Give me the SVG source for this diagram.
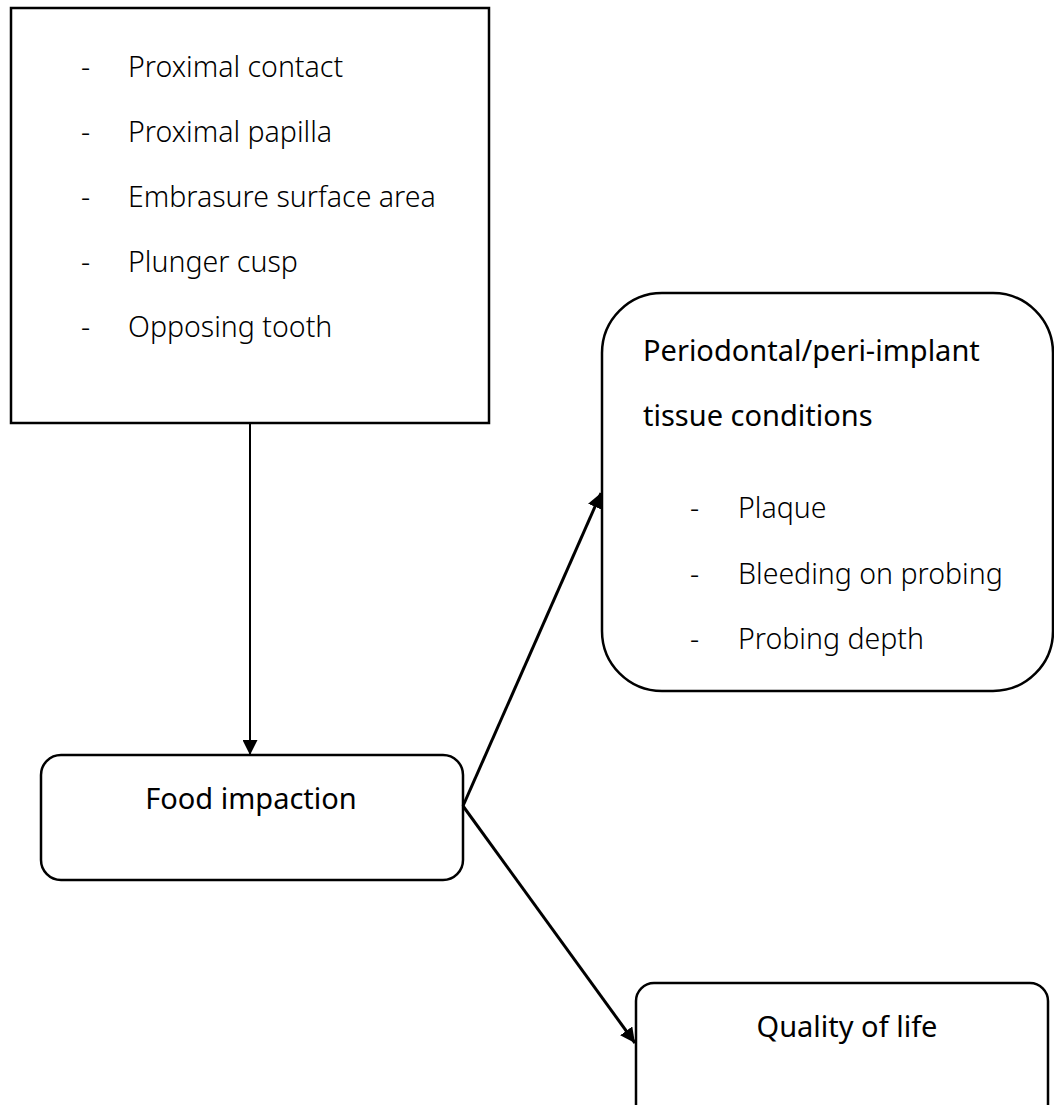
<svg xmlns="http://www.w3.org/2000/svg" width="1054" height="1105" viewBox="0 0 1054 1105">
<style>
.box{fill:#fff;stroke:#000;stroke-width:2.5}
.t{font-family:"Noto Sans","Liberation Sans",sans-serif;font-size:28.5px;font-weight:300;fill:#000}
.b{font-family:"Noto Sans","Liberation Sans",sans-serif;font-size:29px;font-weight:400;fill:#000}
.c{stroke:#000;fill:none}
</style>
<defs>
<marker id="ah" viewBox="0 0 10 10" refX="10" refY="5" markerWidth="15" markerHeight="15" markerUnits="userSpaceOnUse" orient="auto">
<path d="M0,0 L10,5 L0,10 z" fill="#000"/>
</marker>
<marker id="ah2" viewBox="0 0 10 10" refX="10" refY="5" markerWidth="5" markerHeight="5" orient="auto">
<path d="M0,0 L10,5 L0,10 z" fill="#000"/>
</marker>
</defs>
<g id="factors">
<rect class="box" x="11" y="8" width="478" height="415"/>
<text class="t" x="81" y="77">-</text><text class="t" x="128" y="77">Proximal contact</text>
<text class="t" x="81" y="142">-</text><text class="t" x="128" y="142">Proximal papilla</text>
<text class="t" x="81" y="207">-</text><text class="t" x="128" y="207">Embrasure surface area</text>
<text class="t" x="81" y="272">-</text><text class="t" x="128" y="272">Plunger cusp</text>
<text class="t" x="81" y="337">-</text><text class="t" x="128" y="337">Opposing tooth</text>
</g>
<g id="periodontal">
<rect class="box" x="602" y="293" width="451" height="398" rx="60" ry="60"/>
<text class="b" x="643" y="361">Periodontal/peri-implant</text>
<text class="b" x="643" y="426">tissue conditions</text>
<text class="t" x="690" y="518">-</text><text class="t" x="738" y="518">Plaque</text>
<text class="t" x="690" y="584">-</text><text class="t" x="738" y="584">Bleeding on probing</text>
<text class="t" x="690" y="649">-</text><text class="t" x="738" y="649">Probing depth</text>
</g>
<g id="food">
<rect class="box" x="41" y="755" width="422" height="125" rx="20" ry="20"/>
<text class="b" x="251" y="809" text-anchor="middle">Food impaction</text>
</g>
<g id="qol">
<rect class="box" x="636" y="983" width="412" height="140" rx="18" ry="18"/>
<text class="b" x="847" y="1037" text-anchor="middle">Quality of life</text>
</g>
<g id="connectors">
<line class="c" x1="250" y1="423" x2="250" y2="755" stroke-width="2" marker-end="url(#ah)"/>
<line class="c" x1="463" y1="806" x2="601" y2="493" stroke-width="3" marker-end="url(#ah2)"/>
<line class="c" x1="463" y1="806" x2="635" y2="1043" stroke-width="3" marker-end="url(#ah2)"/>
</g>
</svg>
